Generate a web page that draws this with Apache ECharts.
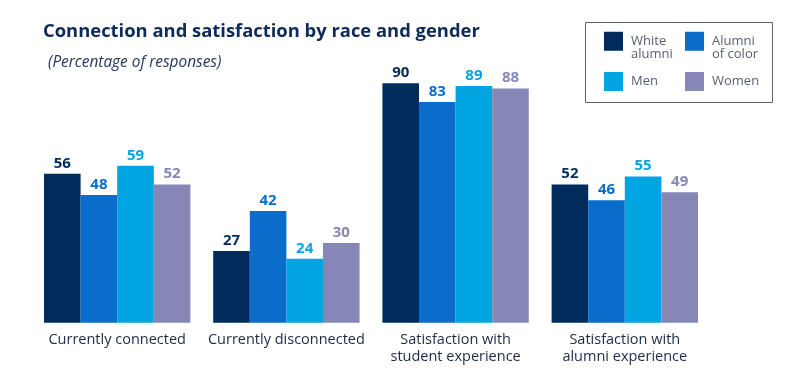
<!DOCTYPE html>
<html>
<head>
<meta charset="utf-8">
<script src="https://cdn.jsdelivr.net/npm/echarts@6/dist/echarts.min.js"></script>
<style>html,body{margin:0;padding:0;background:#fff}#c{width:800px;height:373px}</style>
</head>
<body>
<div id="c"></div>
<script>
const categories = ['Currently connected', 'Currently disconnected', 'Satisfaction with\nstudent experience', 'Satisfaction with\nalumni experience'];
const seriesNames = ['White alumni', 'Alumni of color', 'Men', 'Women'];
const whiteAlumni = [56, 27, 90, 52];
const alumniOfColor = [48, 42, 83, 46];
const men = [59, 24, 89, 55];
const women = [52, 30, 88, 49];
const colors = ['#002b5c', '#0a6ccb', '#00a4e0', '#8787b7'];
const legendLabels = {'White alumni': ' \nWhite\nalumni', 'Alumni of color': ' \nAlumni\nof color', 'Men': 'Men', 'Women': 'Women'};

const values = [whiteAlumni, alumniOfColor, men, women];
const FONT = 'Open Sans';

const chart = echarts.init(document.getElementById('c'), null, {renderer: 'canvas'});

function legendAt(name, left, top) {
  return {
    data: [name],
    left: left, top: top,
    padding: 0,
    itemWidth: 19, itemHeight: 19,
    icon: 'rect',
    selectedMode: false,
    formatter: n => legendLabels[n],
    textStyle: {
      fontFamily: FONT, fontSize: 13, color: '#595e72', lineHeight: 13.5,
      padding: [0, 0, 0, 3]
    }
  };
}

chart.setOption({
  animation: false,
  color: colors,
  title: [
    {text: 'Connection and satisfaction by race and gender', left: 43, top: 23, padding: 0,
     textStyle: {fontFamily: FONT, fontWeight: 'bold', fontSize: 18.4, color: '#0d2a5a'}},
    {text: '(Percentage of responses)', left: 48, top: 55, padding: 0,
     textStyle: {fontFamily: FONT, fontStyle: 'italic', fontWeight: 'normal', fontSize: 15.4, color: '#26365c'}}
  ],
  legend: [
    legendAt('White alumni', 604, 21),
    legendAt('Alumni of color', 685, 21),
    legendAt('Men', 604, 72),
    legendAt('Women', 685, 72)
  ],
  graphic: [{
    type: 'rect',
    shape: {x: 585.5, y: 22.5, width: 187, height: 80},
    style: {fill: 'none', stroke: '#5b6378', lineWidth: 1}
  }],
  grid: {left: 32.6, right: 90.6, top: 56.7, bottom: 50.3},
  xAxis: {
    type: 'category', data: categories,
    axisLine: {show: false}, axisTick: {show: false},
    axisLabel: {fontFamily: FONT, fontSize: 14.5, color: '#1c2a45', lineHeight: 17, margin: 9, interval: 0}
  },
  yAxis: {type: 'value', min: 0, max: 100, show: false, splitLine: {show: false}},
  series: seriesNames.map((name, i) => ({
    name: name, type: 'bar', data: values[i],
    barGap: '0%', barCategoryGap: '13.5%',
    itemStyle: {color: colors[i]},
    label: {show: true, position: 'top', distance: 3,
            fontFamily: FONT, fontWeight: 'bold', fontSize: 15, color: colors[i]}
  }))
});
</script>
</body>
</html>
